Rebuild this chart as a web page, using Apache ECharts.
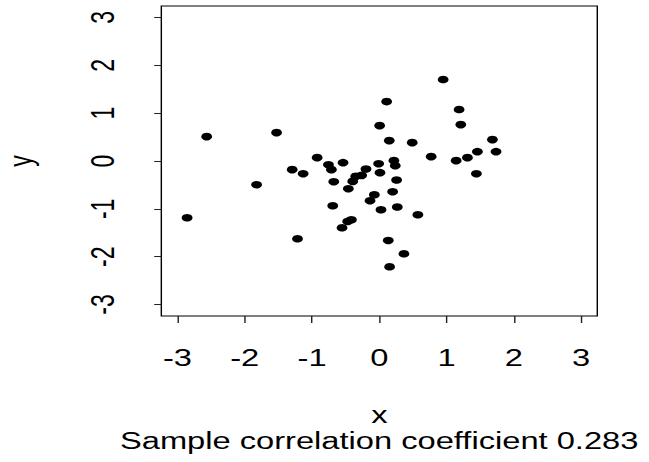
<!DOCTYPE html>
<html>
<head>
<meta charset="utf-8">
<script src="https://cdn.jsdelivr.net/npm/echarts@6/dist/echarts.min.js"></script>
<style>
html,body{margin:0;padding:0;background:#fff;overflow:hidden;}
#wrap{width:649px;height:462px;overflow:hidden;}
#c{width:457px;height:462px;transform:scaleX(1.4201);transform-origin:0 0;}
</style>
</head>
<body>
<div id="wrap"><div id="c"></div></div>
<script>
// Data
const xValues = [0.949, 0.109, 1.186, 0.005, 1.211, -2.566, -1.527, 0.148, 0.489, 1.681,
  0.771, 1.458, 1.735, 1.142, 1.310, 1.443, -0.924, -0.756, -0.712, -0.539,
  -1.295, -1.132, -0.198, -0.010, 0.217, 0.237, 0.010, -0.351, -0.262, -0.395,
  -0.677, 0.257, -0.460, -1.824, -0.074, -0.138, 0.198, -0.692, 0.025, 0.267,
  0.573, -2.857, -0.415, -0.470, -0.554, -1.216, 0.133, 0.366, 0.153];
const yValues = [1.703, 1.242, 1.075, 0.740, 0.761, 0.509, 0.593, 0.426, 0.384, 0.447,
  0.091, 0.195, 0.195, 0.007, 0.070, -0.265, 0.070, -0.077, -0.181, -0.035,
  -0.181, -0.265, -0.167, -0.056, 0.007, -0.098, -0.244, -0.321, -0.300, -0.426,
  -0.433, -0.398, -0.579, -0.495, -0.705, -0.830, -0.642, -0.935, -1.019, -0.963,
  -1.124, -1.186, -1.228, -1.263, -1.396, -1.626, -1.661, -1.940, -2.212];
const xTicks = [-3, -2, -1, 0, 1, 2, 3];
const yTicks = [-3, -2, -1, 0, 1, 2, 3];
const xTitle = 'x';
const yTitle = 'y';
const subTitle = 'Sample correlation coefficient 0.283';

const points = xValues.map((x, i) => [x, yValues[i]]);
const FONT = 'Liberation Sans, Arial, Helvetica, sans-serif';
const FS = 23;

const chart = echarts.init(document.getElementById('c'), null, {renderer: 'svg'});
chart.setOption({
  animation: false,
  backgroundColor: '#fff',
  title: {
    text: subTitle,
    left: 267,
    top: 429,
    textAlign: 'center',
    padding: 0,
    textStyle: {fontFamily: FONT, fontSize: FS, fontWeight: 'normal', color: '#000'}
  },
  grid: {
    left: 113.6, right: 36.4, top: 6, bottom: 146,
    outerBoundsMode: 'none', containLabel: false,
    show: true, borderColor: '#000', borderWidth: 1, backgroundColor: 'transparent'
  },
  xAxis: {
    type: 'value', min: -3.24, max: 3.24,
    name: xTitle, nameLocation: 'middle', nameGap: 87,
    nameTextStyle: {fontFamily: FONT, fontSize: FS, color: '#000'},
    axisLine: {show: false, onZero: false},
    splitLine: {show: false},
    axisTick: {show: true, length: 7, customValues: xTicks, lineStyle: {color: '#222', width: 1}},
    axisLabel: {customValues: xTicks, margin: 30, fontFamily: FONT, fontSize: FS, color: '#000'}
  },
  yAxis: {
    type: 'value', min: -3.24, max: 3.24,
    name: yTitle, nameLocation: 'middle', nameGap: 88, nameRotate: 90,
    nameTextStyle: {fontFamily: FONT, fontSize: FS, color: '#000'},
    axisLine: {show: false, onZero: false},
    splitLine: {show: false},
    axisTick: {show: true, length: 5, customValues: yTicks, lineStyle: {color: '#222', width: 1}},
    axisLabel: {customValues: yTicks, rotate: 90, margin: 30, fontFamily: FONT, fontSize: FS, color: '#000'}
  },
  series: [{
    type: 'scatter',
    data: points,
    symbol: 'circle',
    symbolSize: 7.6,
    itemStyle: {color: '#000', opacity: 1}
  }]
});
</script>
</body>
</html>
